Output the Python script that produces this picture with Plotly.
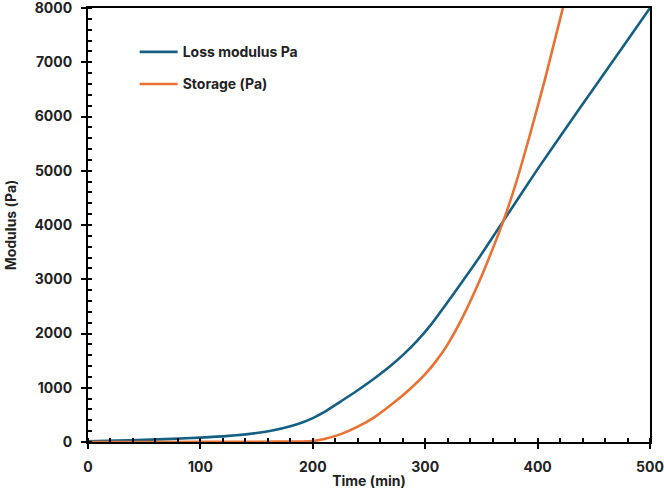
import plotly.graph_objects as go

# Loss modulus (Pa) vs time (min)
loss_time = [0, 25, 50, 75, 100, 125, 150, 165, 180, 190, 200, 210, 225, 239, 255, 269, 281, 293,
             305, 320, 334, 350, 370, 400, 425, 450, 475, 500]
loss_mod = [15, 25, 40, 58, 80, 112, 165, 215, 290, 355, 440, 550, 750, 940, 1175, 1400, 1620, 1870,
            2160, 2580, 2985, 3460, 4090, 5030, 5780, 6520, 7260, 8000]

# Storage modulus (Pa) vs time (min)
sto_time = [0, 50, 100, 150, 190, 200, 210, 225, 240, 255, 270, 285, 300, 310, 320, 334,
            350, 360, 370, 380, 393, 407, 422.5]
sto_mod = [0, 0, 2, 5, 10, 18, 55, 145, 282, 460, 690, 950, 1250, 1500, 1800, 2330,
           3050, 3560, 4100, 4720, 5650, 6720, 8000]

BLUE = "#156082"
ORANGE = "#E97132"
FONT = "Inter"
TXT = "#222222"

fig = go.Figure()
fig.add_trace(go.Scatter(x=loss_time, y=loss_mod, mode="lines", name="Loss modulus Pa",
                         line=dict(color=BLUE, width=2.6, shape="spline", smoothing=0.6),
                         showlegend=True, legend="legend"))
fig.add_trace(go.Scatter(x=sto_time, y=sto_mod, mode="lines", name="Storage (Pa)",
                         line=dict(color=ORANGE, width=2.6, shape="spline", smoothing=0.6),
                         showlegend=True, legend="legend2"))

axis_font = dict(family=FONT, size=14, color=TXT, weight="bold")
leg_font = dict(family=FONT, size=14, weight="bold", color=TXT)

fig.update_layout(
    width=664, height=491,
    margin=dict(l=88, r=14, t=8, b=49, autoexpand=False),
    paper_bgcolor="white", plot_bgcolor="white",
    font=dict(family=FONT, color=TXT),
    showlegend=True,
    legend=dict(x=0.083, y=0.898, xanchor="left", yanchor="middle", itemwidth=38,
                bgcolor="rgba(0,0,0,0)", font=leg_font),
    legend2=dict(x=0.083, y=0.824, xanchor="left", yanchor="middle", itemwidth=38,
                 bgcolor="rgba(0,0,0,0)", font=leg_font),
    xaxis=dict(range=[0, 500], tickvals=[0, 100, 200, 300, 400, 500], automargin=False,
               showgrid=False, zeroline=False, showline=True, linecolor="black", linewidth=2,
               mirror=True, ticks="outside", ticklen=5, tickwidth=2, tickcolor="black",
               minor=dict(dtick=20, ticks="inside", ticklen=4, tickwidth=2, tickcolor="black"),
               tickfont=axis_font, ticklabelstandoff=6, ticklabeloverflow="allow",
               title=dict(text="Time (min)", font=dict(family=FONT, size=14, weight="bold", color=TXT),
                          standoff=2)),
    yaxis=dict(range=[0, 8000], tickvals=list(range(0, 8001, 1000)), automargin=False,
               showgrid=False, zeroline=False, showline=True, linecolor="black", linewidth=2,
               mirror=True, ticks="outside", ticklen=5, tickwidth=2, tickcolor="black",
               minor=dict(dtick=200, ticks="inside", ticklen=4, tickwidth=2, tickcolor="black"),
               tickfont=axis_font, ticklabelstandoff=6, ticklabeloverflow="allow",
               title=dict(text="Modulus (Pa)", font=dict(family=FONT, size=14, weight="bold", color=TXT),
                          standoff=15)),
)

fig.write_html("out.html")
